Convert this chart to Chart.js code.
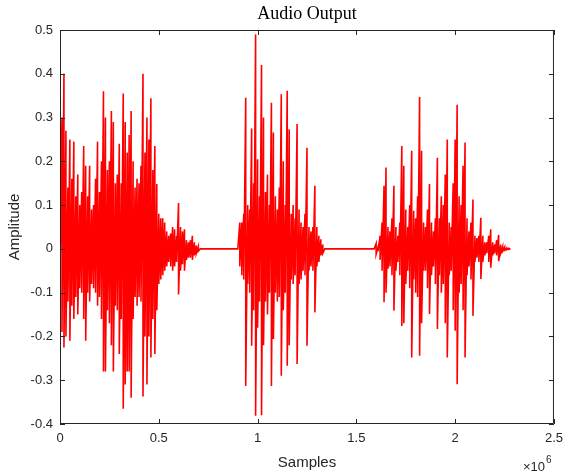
<!DOCTYPE html>
<html>
<head>
<meta charset="utf-8">
<script src="https://cdn.jsdelivr.net/npm/chart.js@4/dist/chart.umd.min.js"></script>
<style>
  html, body { margin: 0; padding: 0; background: #fff; }
  #wrap { width: 570px; height: 475px; }
</style>
</head>
<body>
<div id="wrap"><canvas id="chart" width="570" height="475"></canvas></div>
<script>
// waveform envelope, one column every 10k samples
const STEP = 10000;

const seg1Start = 0;
const seg1Hi = [0.06, 0.30, 0.40, 0.27, 0.14, 0.25, 0.16, 0.245, 0.12, 0.17,
  0.10, 0.13, 0.235, 0.19, 0.12, 0.19, 0.09, 0.10, 0.16, 0.245,
  0.13, 0.20, 0.36, 0.30, 0.18, 0.20, 0.315, 0.29, 0.15, 0.17,
  0.24, 0.15, 0.355, 0.29, 0.22, 0.26, 0.315, 0.20, 0.14, 0.16,
  0.15, 0.19, 0.40, 0.22, 0.30, 0.25, 0.344, 0.18, 0.235, 0.148,
  0.08, 0.07, 0.07, 0.06, 0.04, 0.03, 0.035, 0.05, 0.045, 0.03,
  0.105, 0.05, 0.04, 0.045, 0.02, 0.015, 0.02, 0.03, 0.015, 0.008,
  0.005, 0];
const seg1Lo = [-0.05, -0.19, -0.225, -0.20, -0.12, -0.21, -0.13, -0.16, -0.11, -0.15,
  -0.09, -0.10, -0.16, -0.21, -0.10, -0.12, -0.08, -0.09, -0.10, -0.13,
  -0.11, -0.16, -0.28, -0.28, -0.14, -0.17, -0.22, -0.28, -0.13, -0.14,
  -0.24, -0.16, -0.365, -0.31, -0.28, -0.28, -0.34, -0.16, -0.11, -0.13,
  -0.11, -0.12, -0.337, -0.20, -0.31, -0.20, -0.248, -0.16, -0.24, -0.14,
  -0.08, -0.07, -0.06, -0.05, -0.04, -0.03, -0.04, -0.05, -0.04, -0.03,
  -0.104, -0.05, -0.035, -0.05, -0.025, -0.02, -0.02, -0.025, -0.015, -0.01,
  -0.005, 0];

const seg2Start = 900000;
const seg2Hi = [0, 0.06, 0.06, 0.08, 0.345, 0.10, 0.09, 0.275, 0.15, 0.49,
  0.205, 0.12, 0.42, 0.30, 0.13, 0.17, 0.10, 0.334, 0.266, 0.12,
  0.09, 0.14, 0.353, 0.20, 0.10, 0.361, 0.273, 0.08, 0.10, 0.07,
  0.285, 0.09, 0.06, 0.05, 0.08, 0.231, 0.05, 0.04, 0.05, 0.144,
  0.05, 0.03, 0.022, 0.01, 0];
const seg2Lo = [0, -0.04, -0.06, -0.07, -0.313, -0.08, -0.10, -0.221, -0.14, -0.381,
  -0.18, -0.12, -0.38, -0.22, -0.12, -0.15, -0.10, -0.313, -0.206, -0.10,
  -0.12, -0.11, -0.29, -0.14, -0.10, -0.267, -0.22, -0.07, -0.08, -0.06,
  -0.263, -0.08, -0.07, -0.05, -0.06, -0.221, -0.05, -0.04, -0.05, -0.145,
  -0.04, -0.03, -0.015, -0.01, 0];

const seg3Start = 1590000;
const seg3Hi = [0, 0.012, 0.005, 0.03, 0.06, 0.144, 0.186, 0.05, 0.04, 0.07,
  0.144, 0.05, 0.03, 0.06, 0.235, 0.19, 0.09, 0.05, 0.10, 0.224,
  0.087, 0.07, 0.12, 0.347, 0.224, 0.06, 0.05, 0.09, 0.148, 0.06,
  0.04, 0.07, 0.208, 0.07, 0.12, 0.10, 0.17, 0.25, 0.06, 0.05,
  0.15, 0.25, 0.329, 0.12, 0.10, 0.19, 0.243, 0.07, 0.04, 0.06,
  0.113, 0.03, 0.025, 0.03, 0.071, 0.03, 0.015, 0.015, 0.03, 0.045,
  0.015, 0.01, 0.02, 0.032, 0.01, 0.005, 0.004, 0.002, 0.001, 0];
const seg3Lo = [0, -0.012, -0.005, -0.025, -0.05, -0.122, -0.10, -0.045, -0.04, -0.06,
  -0.141, -0.05, -0.03, -0.06, -0.176, -0.17, -0.08, -0.05, -0.09, -0.248,
  -0.07, -0.10, -0.11, -0.244, -0.17, -0.05, -0.05, -0.09, -0.149, -0.06,
  -0.04, -0.08, -0.183, -0.06, -0.10, -0.08, -0.17, -0.248, -0.06, -0.05,
  -0.14, -0.187, -0.309, -0.10, -0.08, -0.14, -0.248, -0.06, -0.04, -0.07,
  -0.153, -0.03, -0.02, -0.03, -0.069, -0.03, -0.015, -0.01, -0.03, -0.043,
  -0.015, -0.01, -0.015, -0.028, -0.01, -0.005, -0.003, -0.002, -0.001, 0];

const xTicks = [0, 500000, 1000000, 1500000, 2000000, 2500000];
const yTicks = [-0.4, -0.3, -0.2, -0.1, 0, 0.1, 0.2, 0.3, 0.4, 0.5];

function columns(start, hi, lo) {
  const pts = [];
  hi.forEach((h, i) => {
    const x = start + i * STEP;
    pts.push({ x: x, y: h });
    pts.push({ x: x, y: lo[i] });
  });
  return pts;
}

const wave = [
  ...columns(seg1Start, seg1Hi, seg1Lo),
  ...columns(seg2Start, seg2Hi, seg2Lo),
  ...columns(seg3Start, seg3Hi, seg3Lo)
];

const AXIS_COLOR = "#262626";
const SANS = "'Liberation Sans', Arial, Helvetica, sans-serif";

// MATLAB style box, inward ticks, title and x exponent
const matlabFrame = {
  id: "matlabFrame",
  afterDraw(chart) {
    const { ctx, chartArea: a, scales } = chart;
    ctx.save();
    ctx.strokeStyle = AXIS_COLOR;
    ctx.lineWidth = 1;
    ctx.beginPath();
    ctx.rect(a.left + 0.5, a.top + 0.5, a.right - a.left - 1, a.bottom - a.top - 1);
    ctx.stroke();
    const len = 5;
    ctx.beginPath();
    xTicks.forEach((v) => {
      const px = Math.round(scales.x.getPixelForValue(v)) + 0.5;
      ctx.moveTo(px, a.bottom);
      ctx.lineTo(px, a.bottom - len);
      ctx.moveTo(px, a.top);
      ctx.lineTo(px, a.top + len);
    });
    yTicks.forEach((v) => {
      const py = Math.round(scales.y.getPixelForValue(v)) + 0.5;
      ctx.moveTo(a.left, py);
      ctx.lineTo(a.left + len, py);
      ctx.moveTo(a.right, py);
      ctx.lineTo(a.right - len, py);
    });
    ctx.stroke();

    ctx.fillStyle = "#000";
    ctx.font = "18px 'Liberation Serif', 'Times New Roman', serif";
    ctx.textAlign = "center";
    ctx.textBaseline = "middle";
    ctx.fillText("Audio Output", (a.left + a.right) / 2, 14);

    ctx.fillStyle = AXIS_COLOR;
    ctx.font = "13px " + SANS;
    ctx.textAlign = "right";
    ctx.textBaseline = "alphabetic";
    ctx.fillText("\u00d710", a.right - 9, 471);
    ctx.font = "10px " + SANS;
    ctx.textAlign = "left";
    ctx.fillText("6", a.right - 8, 463);
    ctx.restore();
  }
};

const ctx = document.getElementById("chart").getContext("2d");
new Chart(ctx, {
  type: "line",
  data: {
    datasets: [{
      label: "Audio",
      data: wave,
      borderColor: "#ff0000",
      borderWidth: 1.6,
      pointRadius: 0,
      tension: 0,
      fill: false
    }]
  },
  options: {
    responsive: false,
    animation: false,
    layout: { padding: { top: 30, right: 13, left: 0, bottom: 0 } },
    plugins: {
      legend: { display: false },
      tooltip: { enabled: false }
    },
    scales: {
      x: {
        type: "linear",
        min: 0,
        max: 2500000,
        afterFit: (s) => { s.height = 51; },
        afterBuildTicks: (s) => { s.ticks = xTicks.map((v) => ({ value: v })); },
        grid: { display: false, drawTicks: false },
        border: { display: false },
        ticks: {
          color: AXIS_COLOR,
          font: { family: SANS, size: 13 },
          padding: 7,
          maxRotation: 0,
          callback: (v) => String(v / 1000000)
        },
        title: {
          display: true,
          text: "Samples",
          color: AXIS_COLOR,
          font: { family: SANS, size: 15 },
          padding: { top: 0, bottom: 3 }
        }
      },
      y: {
        type: "linear",
        min: -0.4,
        max: 0.5,
        afterFit: (s) => { s.width = 60; },
        afterBuildTicks: (s) => { s.ticks = yTicks.map((v) => ({ value: v })); },
        grid: { display: false, drawTicks: false },
        border: { display: false },
        ticks: {
          color: AXIS_COLOR,
          font: { family: SANS, size: 13 },
          padding: 7,
          callback: (v) => String(Math.round(v * 10) / 10)
        },
        title: {
          display: true,
          text: "Amplitude",
          color: AXIS_COLOR,
          font: { family: SANS, size: 15 },
          padding: { top: 6, bottom: 0 }
        }
      }
    }
  },
  plugins: [matlabFrame]
});
</script>
</body>
</html>
